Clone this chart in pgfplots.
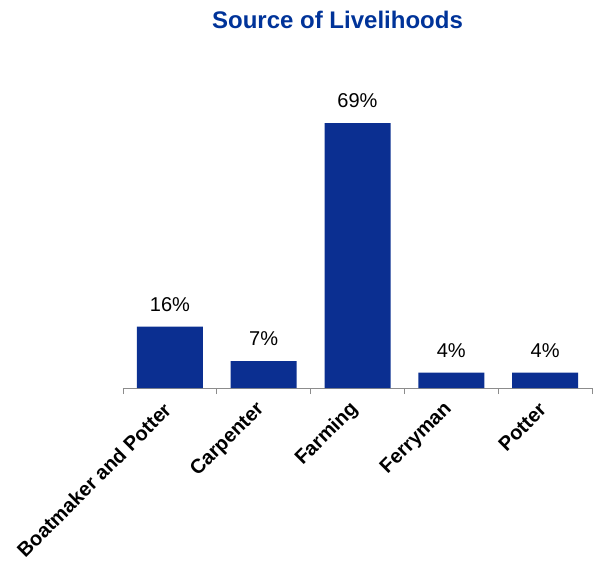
\documentclass[border=0pt]{standalone}
\usepackage{pgfplots}
\pgfplotsset{compat=1.18}
\usepackage{fontspec}
\setmainfont{Liberation Sans}
\definecolor{barblue}{HTML}{0B2F91}
\definecolor{titleblue}{HTML}{003399}
\definecolor{axgray}{HTML}{8C8C8C}
\begin{document}
\begin{tikzpicture}
\useasboundingbox (-123pt,-176pt) rectangle (470pt,388pt);
\begin{axis}[
  at={(0pt,0pt)}, anchor=south west,
  scale only axis,
  width=469pt, height=288pt,
  xmin=-0.5, xmax=4.5, ymin=0, ymax=75,
  axis x line*=bottom, axis y line=none,
  axis line style={axgray, line width=0.8pt},
  xtick={0,1,2,3,4},
  xticklabels={Boatmaker and Potter, Carpenter, Farming, Ferryman, Potter},
  major tick length=0pt,
  extra x ticks={-0.5,0.5,1.5,2.5,3.5,4.5},
  extra x tick labels={},
  extra x tick style={major tick length=6pt, tick align=outside, tick style={axgray, line width=0.8pt}},
  xticklabel shift=16pt,
  x tick label style={rotate=45, anchor=east, font=\bfseries\fontsize{20}{23}\selectfont, text=black},
  /pgf/number format/assume math mode=true,
  ybar, bar width=66pt,
  nodes near coords={\pgfmathprintnumber{\pgfplotspointmeta}\%},
  every node near coord/.append style={font=\fontsize{20}{24}\selectfont, text=black, inner sep=0pt, anchor=south, yshift=15pt},
]
\addplot[fill=barblue, draw=none] coordinates {(0,16) (1,7) (2,69) (3,4) (4,4)};
\end{axis}
\node[font=\bfseries\fontsize{24}{28}\selectfont, text=titleblue] at (214.5pt,368pt) {Source of Livelihoods};
\end{tikzpicture}
\end{document}
